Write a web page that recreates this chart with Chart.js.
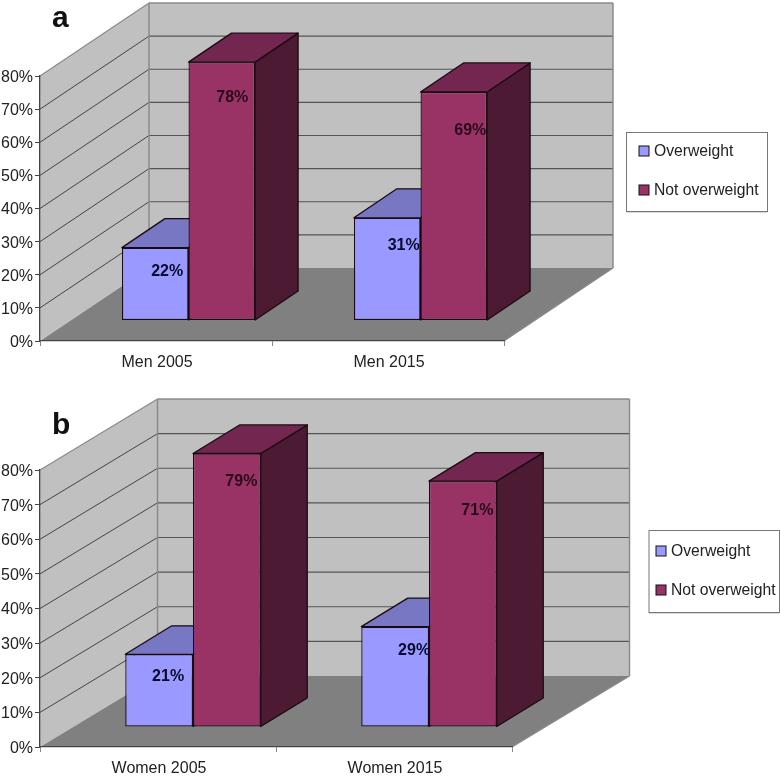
<!DOCTYPE html>
<html>
<head>
<meta charset="utf-8">
<title>Overweight</title>
<script src="https://cdn.jsdelivr.net/npm/chart.js@4"></script>
<style>
  html, body { margin: 0; padding: 0; background: #fff; }
  #wrap { position: relative; width: 780px; height: 778px; overflow: hidden; }
  canvas { position: absolute; left: 0; top: 0; }
</style>
</head>
<body>
<div id="wrap">
  <canvas id="chartA" width="780" height="778"></canvas>
  <canvas id="chartB" width="780" height="778"></canvas>
</div>
<script>
const seriesNames = ['Overweight', 'Not overweight'];

const categoriesA = ['Men 2005', 'Men 2015'];
const overweightA = [22, 31];
const notOverweightA = [78, 69];

const categoriesB = ['Women 2005', 'Women 2015'];
const overweightB = [21, 29];
const notOverweightB = [79, 71];

const FONT = '"Liberation Sans", Arial, sans-serif';
const TEXT = '#222';

// colours of the three visible faces of each bar
const faces = [
    { front: '#9999ff', top: '#7777c4', side: '#5c5c99' },
    { front: '#993366', top: '#732650', side: '#4d1a33' }
];

// page geometry of the two panels
const panelA = {
    letter: 'a', letterX: 52, letterY: 26.5,
    left: 40, right: 504, top: 76, bottom: 341,
    wall: [109, -73], barShift: [32.5, -20.5], barDepth: [43, -29],
    legend: { x: 626.5, y: 132.5, w: 141, h: 79, swatchX: 639, textX: 654, rows: [151, 190] },
    // label position relative to the bar's centre and top
    labelNudge: [[[12, 24], [16.5, 28]], [[10.5, 35], [16.5, 39]]]
};
const panelB = {
    letter: 'b', letterX: 52, letterY: 434,
    left: 40, right: 512, top: 470, bottom: 747,
    wall: [117.5, -71], barShift: [35, -20], barDepth: [46.5, -28.5],
    legend: { x: 649, y: 530.5, w: 130.5, h: 82, swatchX: 656, textX: 671, rows: [551, 590] },
    labelNudge: [[[9, 22.5], [19, 24]], [[14.5, 28.5], [14.5, 29]]]
};

function poly(ctx, pts, fill, stroke, lw) {
    ctx.beginPath();
    pts.forEach((p, i) => i ? ctx.lineTo(p[0], p[1]) : ctx.moveTo(p[0], p[1]));
    ctx.closePath();
    if (fill) { ctx.fillStyle = fill; ctx.fill(); }
    if (stroke) { ctx.strokeStyle = stroke; ctx.lineWidth = lw; ctx.stroke(); }
}

function line(ctx, x1, y1, x2, y2, color, lw) {
    ctx.beginPath();
    ctx.moveTo(x1, y1);
    ctx.lineTo(x2, y2);
    ctx.strokeStyle = color;
    ctx.lineWidth = lw;
    ctx.stroke();
}

// walls, floor, gridlines, the letter and the legend go behind everything
const backdrop = {
    id: 'backdrop',
    beforeDraw(chart, args, opts) {
        const { ctx, scales: { x, y } } = chart;
        const p = opts.panel;
        const L = x.left, R = x.right, wx = p.wall[0], wy = p.wall[1];
        const top = y.getPixelForValue(y.max), bot = y.getPixelForValue(0);
        ctx.save();
        poly(ctx, [[L, bot], [L, top], [L + wx, top + wy], [L + wx, bot + wy]], '#c0c0c0');
        poly(ctx, [[L + wx, bot + wy], [L + wx, top + wy], [R + wx, top + wy], [R + wx, bot + wy]], '#c0c0c0');
        poly(ctx, [[L, bot], [L + wx, bot + wy], [R + wx, bot + wy], [R, bot]], '#808080');

        y.ticks.forEach(t => {
            if (t.value === 0 || t.value === y.max) return;
            const py = y.getPixelForValue(t.value);
            line(ctx, L, py, L + wx, py + wy, '#444', 1);
            line(ctx, L + wx, py + wy, R + wx, py + wy, '#555', 1.2);
        });

        // grey wall edges
        line(ctx, L, top, L + wx, top + wy, '#8a8a8a', 1.2);
        line(ctx, L + wx, top + wy, R + wx, top + wy, '#8a8a8a', 1.5);
        line(ctx, L + wx, top + wy, L + wx, bot + wy, '#8a8a8a', 1.5);
        line(ctx, R + wx, top + wy, R + wx, bot + wy, '#8a8a8a', 1.5);
        line(ctx, R + wx, bot + wy, R, bot, '#8a8a8a', 1.2);

        ctx.fillStyle = '#111';
        ctx.font = 'bold 30px ' + FONT;
        ctx.textAlign = 'left';
        ctx.textBaseline = 'alphabetic';
        ctx.fillText(p.letter, p.letterX, p.letterY);

        const lg = p.legend;
        ctx.shadowColor = 'rgba(0,0,0,0.3)';
        ctx.shadowOffsetY = 1;
        ctx.fillStyle = '#fff';
        ctx.fillRect(lg.x, lg.y, lg.w, lg.h);
        ctx.shadowColor = 'transparent';
        ctx.strokeStyle = '#777';
        ctx.lineWidth = 1;
        ctx.strokeRect(lg.x, lg.y, lg.w, lg.h);
        ctx.font = '15.7px ' + FONT;
        ctx.textBaseline = 'middle';
        chart.data.datasets.forEach((ds, i) => {
            const ry = lg.rows[i];
            ctx.fillStyle = ds.backgroundColor;
            ctx.fillRect(lg.swatchX, ry - 5, 10, 10);
            ctx.strokeStyle = '#111';
            ctx.strokeRect(lg.swatchX, ry - 5, 10, 10);
            ctx.fillStyle = TEXT;
            ctx.fillText(ds.label, lg.textX, ry + 1);
        });
        ctx.restore();
    }
};

// the library's bars are pushed back into the box, the sides and tops are added here
const box3d = {
    id: 'box3d',
    beforeDatasetsDraw(chart, args, opts) {
        const { ctx } = chart;
        const p = opts.panel;
        const [sx, sy] = p.barShift, [dx, dy] = p.barDepth;
        ctx.save();
        ctx.lineJoin = 'round';
        chart.data.datasets.forEach((ds, i) => {
            chart.getDatasetMeta(i).data.forEach(el => {
                const l = el.x - el.width / 2 + sx, r = el.x + el.width / 2 + sx;
                const t = el.y + sy, b = el.base + sy;
                poly(ctx, [[r, t], [r + dx, t + dy], [r + dx, b + dy], [r, b]], faces[i].side, '#1a0a12', 1.3);
                poly(ctx, [[l, t], [l + dx, t + dy], [r + dx, t + dy], [r, t]], faces[i].top, '#1a0a12', 1.3);
            });
        });
        ctx.restore();
        ctx.save();
        ctx.translate(sx, sy);
    },
    afterDatasetsDraw(chart, args, opts) {
        const { ctx } = chart;
        const p = opts.panel;
        ctx.restore();
        ctx.save();
        ctx.font = 'bold 16px ' + FONT;
        ctx.textAlign = 'center';
        ctx.textBaseline = 'middle';
        chart.data.datasets.forEach((ds, i) => {
            chart.getDatasetMeta(i).data.forEach((el, j) => {
                const n = p.labelNudge[i][j];
                ctx.fillStyle = i ? '#2a0a1a' : '#0a0a2a';
                ctx.fillText(ds.data[j] + '%', el.x + p.barShift[0] + n[0], el.y + p.barShift[1] + n[1]);
            });
        });
        ctx.restore();
    }
};

function drawPanel(id, categories, overweight, notOverweight, panel) {
    const config = {
        type: 'bar',
        data: {
            labels: categories,
            datasets: [overweight, notOverweight].map((values, i) => ({
                label: seriesNames[i],
                data: values,
                backgroundColor: faces[i].front,
                borderColor: '#1a0a12',
                borderWidth: 1.3,
                borderSkipped: false,
                barPercentage: 1,
                categoryPercentage: 0.574,
                clip: false
            }))
        },
        options: {
            responsive: false,
            animation: false,
            events: [],
            layout: {
                padding: {
                    left: 0,
                    top: panel.top,
                    right: 780 - panel.right,
                    bottom: 778 - panel.bottom - 40
                }
            },
            scales: {
                x: {
                    afterFit: s => { s.height = 40; },
                    grid: { display: true, drawOnChartArea: false, drawTicks: true, tickLength: 5, color: '#888' },
                    border: { color: '#444', width: 1.3 },
                    ticks: { color: TEXT, font: { family: FONT, size: 16 }, padding: 7, labelOffset: 1, maxRotation: 0 }
                },
                y: {
                    min: 0,
                    max: 80,
                    afterFit: s => { s.width = panel.left; },
                    grid: { display: true, drawOnChartArea: false, drawTicks: true, tickLength: 5, color: '#444' },
                    border: { color: '#444', width: 1.3 },
                    ticks: {
                        stepSize: 10,
                        color: TEXT,
                        font: { family: FONT, size: 16 },
                        padding: 2,
                        labelOffset: 1.5,
                        callback: v => v + '%'
                    }
                }
            },
            plugins: {
                legend: { display: false },
                tooltip: { enabled: false },
                backdrop: { panel },
                box3d: { panel }
            }
        },
        plugins: [backdrop, box3d]
    };
    return new Chart(document.getElementById(id), config);
}

drawPanel('chartA', categoriesA, overweightA, notOverweightA, panelA);
drawPanel('chartB', categoriesB, overweightB, notOverweightB, panelB);
</script>
</body>
</html>
